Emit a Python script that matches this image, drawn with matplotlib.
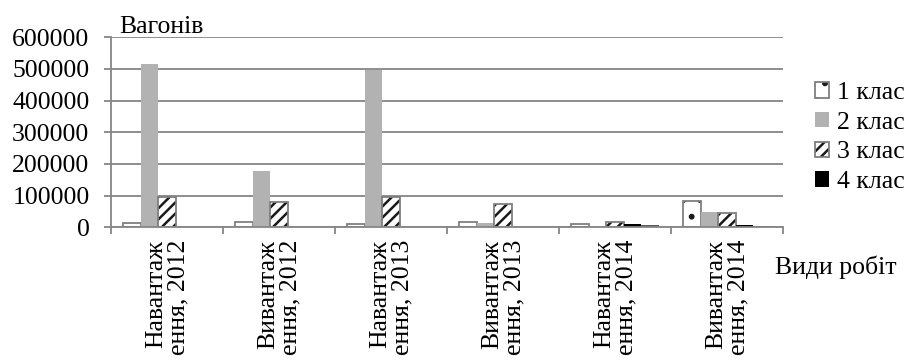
import matplotlib
matplotlib.use("Agg")
import matplotlib.pyplot as plt
from matplotlib.ticker import FuncFormatter
import numpy as np

plt.rcParams['font.family'] = ['Liberation Serif', 'DejaVu Serif']
plt.rcParams['hatch.color'] = '#1a1a1a'
plt.rcParams['hatch.linewidth'] = 1.8

# Види робіт по роках
works = ["Навантаження, 2012", "Вивантаження, 2012",
         "Навантаження, 2013", "Вивантаження, 2013",
         "Навантаження, 2014", "Вивантаження, 2014"]
tick_labels = ["Навантаж\nення, 2012", "Вивантаж\nення, 2012",
               "Навантаж\nення, 2013", "Вивантаж\nення, 2013",
               "Навантаж\nення, 2014", "Вивантаж\nення, 2014"]

# Кількість вагонів за класами
class1 = [14600, 17800, 11400, 17800, 9500, 84000]
class2 = [515000, 179000, 497000, 13500, 4000, 49500]
class3 = [97000, 81300, 96000, 73000, 15900, 44000]
class4 = [0, 0, 0, 0, 9500, 7000]
class5 = [1500, 1500, 1500, 2000, 6300, 4000]
series_names = ["1 клас", "2 клас", "3 клас", "4 клас"]

yticks = [0, 100000, 200000, 300000, 400000, 500000, 600000]

grid_c = '#868686'
edge_c = '#7f7f7f'
fs = 18.5

fig = plt.figure(figsize=(9.17, 3.6), dpi=100)
ax = fig.add_axes([111 / 917, 1 - 227.3 / 360, 672 / 917, 190 / 360])

x = np.arange(len(works))
w = 0.156

ax.set_axisbelow(True)
ax.yaxis.grid(True, color=grid_c, linewidth=1.3)

# hatched bars: fill + hatch first, gray outline on top
b1 = ax.bar(x - 2 * w, class1, w, facecolor='white', hatch='.', linewidth=0)
o1 = ax.bar(x - 2 * w, class1, w, fill=False, edgecolor=edge_c, linewidth=1.3)
b2 = ax.bar(x - w, class2, w, color='#b2b2b2', linewidth=0)
b3 = ax.bar(x, class3, w, facecolor='white', hatch='///', linewidth=0)
o3 = ax.bar(x, class3, w, fill=False, edgecolor=edge_c, linewidth=1.3)
b4 = ax.bar(x + w, class4, w, color='black', linewidth=0)
b5 = ax.bar(x + 2 * w, class5, w, color='#595959', linewidth=0)

ax.set_xlim(-0.5, len(works) - 0.5)
ax.set_ylim(0, 600000)
ax.set_yticks(yticks)
ax.yaxis.set_major_formatter(FuncFormatter(lambda v, p: f"{int(v)}"))

ax.set_xticks(np.arange(-0.5, len(works), 1))
ax.set_xticklabels([])
ax.set_xticks(x, minor=True)
ax.set_xticklabels(tick_labels, minor=True, rotation=90, ha='center', va='top',
                   multialignment='right', linespacing=1.0, fontsize=fs)

ax.tick_params(axis='y', direction='out', length=5, width=1.3, color=grid_c,
               labelsize=fs, pad=10.5)
ax.tick_params(axis='x', which='major', direction='out', length=5, width=1.3,
               color=grid_c)
ax.tick_params(axis='x', which='minor', length=0, pad=9)

for side in ['top', 'right']:
    ax.spines[side].set_visible(False)
for side in ['left', 'bottom']:
    ax.spines[side].set_color(grid_c)
    ax.spines[side].set_linewidth(1.3)

ax.text(0.013, 1.023, "Вагонів", transform=ax.transAxes, fontsize=fs,
        va='baseline')
ax.text(0.988, -0.246, "Види робіт", transform=ax.transAxes, fontsize=fs,
        va='baseline')

handles = [(b1[0], o1[0]), b2[0], (b3[0], o3[0]), b4[0]]
fig.legend(handles, series_names, loc='upper left',
           bbox_to_anchor=(815 / 917, 1 - 82 / 360), frameon=False,
           fontsize=fs, handlelength=0.55, handleheight=0.55,
           handletextpad=0.3, labelspacing=0.3, borderpad=0,
           borderaxespad=0)

fig.savefig("out.png", dpi=100)
